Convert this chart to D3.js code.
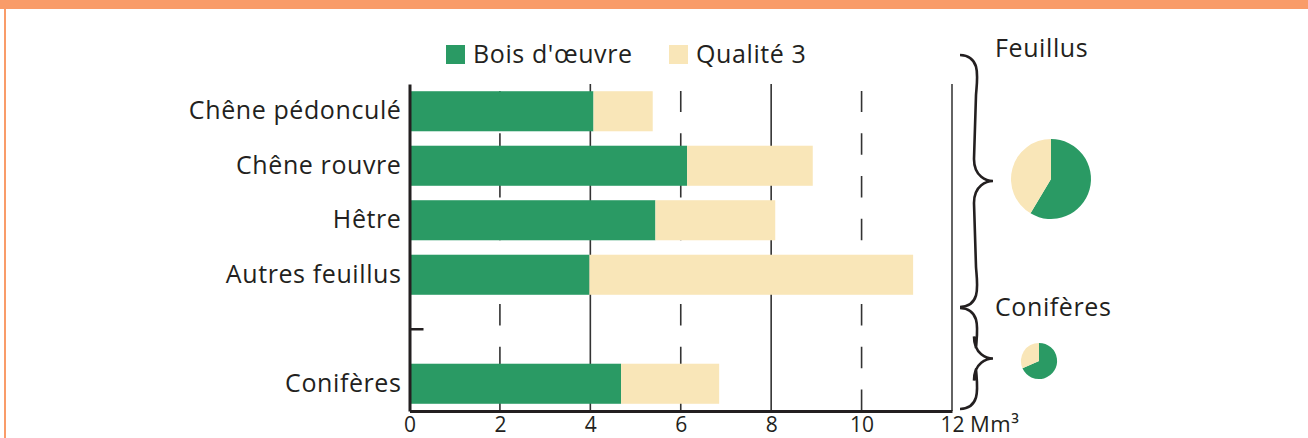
<!DOCTYPE html>
<html>
<head>
<meta charset="utf-8">
<script src="https://cdn.jsdelivr.net/npm/d3@7"></script>
<style>
  html, body { margin: 0; padding: 0; background: #fff; }
  svg { display: block; font-family: "Open Sans", "Noto Sans", sans-serif; }
  svg text { font-family: "Open Sans", "Noto Sans", sans-serif; }
</style>
</head>
<body>
<div id="chart"></div>
<script>
const species = ['Chêne pédonculé', 'Chêne rouvre', 'Hêtre', 'Autres feuillus', 'Conifères'];
const groups = ['Feuillus', 'Feuillus', 'Feuillus', 'Feuillus', 'Conifères'];
const boisOeuvre = [4.07, 6.14, 5.44, 3.98, 4.68];
const qualite3 = [1.31, 2.78, 2.65, 7.16, 2.17];
const seriesNames = ['Bois d\'œuvre', 'Qualité 3'];
const xTicks = [0, 2, 4, 6, 8, 10, 12];
const groupNames = ['Feuillus', 'Conifères'];

const colors = ['#2a9a64', '#f9e6b8'];
const ink = '#231f20';
const width = 1308, height = 438;
const labelSize = 25, labelSpacing = 0.6;

const svg = d3.select('#chart').append('svg').attr('width', width).attr('height', height);

// frame of the page
svg.append('rect').attr('x', 0).attr('y', 0).attr('width', width).attr('height', 9).attr('fill', '#f99c69');
svg.append('rect').attr('x', 4).attr('y', 0).attr('width', 2).attr('height', height).attr('fill', '#f99c69');

const rows = species.map((s, i) => ({ name: s, group: groups[i], a: boisOeuvre[i], b: qualite3[i] }));
// blank band between the two groups
const domain = ['Chêne pédonculé', 'Chêne rouvre', 'Hêtre', 'Autres feuillus', '__gap', 'Conifères'];

const x = d3.scaleLinear([0, 12], [409.5, 952]);
const y = d3.scaleBand(domain, [84, 411]).paddingInner(0.265).paddingOuter(0.1325);

// grid
const grid = svg.append('g');
xTicks.filter((t) => t > 0 && t < 12).forEach((t) => {
  const solid = t % 4 === 0;
  grid.append('line')
    .attr('x1', x(t)).attr('x2', x(t))
    .attr('y1', 411).attr('y2', solid ? 84 : 91)
    .attr('stroke', '#333').attr('stroke-width', 1.6)
    .attr('stroke-dasharray', solid ? null : '21.5,21.2');
});
// right frame line
svg.append('line').attr('x1', x(12)).attr('x2', x(12)).attr('y1', 84).attr('y2', 411)
  .attr('stroke', '#222').attr('stroke-width', 1.4);

// bars
const bars = svg.append('g');
bars.selectAll('rect.a').data(rows).join('rect').attr('class', 'a')
  .attr('x', x(0)).attr('y', (d) => y(d.name))
  .attr('width', (d) => x(d.a) - x(0)).attr('height', y.bandwidth())
  .attr('fill', colors[0]);
bars.selectAll('rect.b').data(rows).join('rect').attr('class', 'b')
  .attr('x', (d) => x(d.a)).attr('y', (d) => y(d.name))
  .attr('width', (d) => x(d.a + d.b) - x(d.a)).attr('height', y.bandwidth())
  .attr('fill', colors[1]);

// axes
const xAxis = svg.append('g').attr('transform', 'translate(0,411)')
  .call(d3.axisBottom(x).tickValues(xTicks).tickSize(0).tickPadding(6).tickFormat(d3.format('d')));
xAxis.attr('font-family', null);
xAxis.select('.domain').attr('stroke', ink).attr('stroke-width', 3);
xAxis.selectAll('text').attr('font-size', 21).attr('fill', ink);

const yAxis = svg.append('g').attr('transform', `translate(${x(0)},0)`)
  .call(d3.axisLeft(y).tickSize(0).tickPadding(8).tickFormat((d) => (d === '__gap' ? '' : d)));
yAxis.attr('font-family', null);
yAxis.select('.domain').attr('stroke', ink).attr('stroke-width', 3);
yAxis.selectAll('text').attr('font-size', labelSize).attr('letter-spacing', labelSpacing).attr('fill', ink);
// small inner tick on the gap band
yAxis.append('line').attr('x1', 0).attr('x2', 14)
  .attr('y1', y('__gap') + y.bandwidth() / 2).attr('y2', y('__gap') + y.bandwidth() / 2)
  .attr('stroke', ink).attr('stroke-width', 2.5);

svg.append('text').attr('x', 970).attr('y', 432).attr('font-size', 22).attr('letter-spacing', 0.5)
  .attr('fill', ink).text('Mm³');

// legend
const legend = svg.append('g');
const legendX = [446, 669];
seriesNames.forEach((n, i) => {
  legend.append('rect').attr('x', legendX[i]).attr('y', 45).attr('width', 19).attr('height', 19).attr('fill', colors[i]);
  legend.append('text').attr('x', legendX[i] + 27).attr('y', 63)
    .attr('font-size', labelSize).attr('letter-spacing', labelSpacing).attr('fill', ink).text(n);
});

// group braces and pies
function bracePath(x0, y0, y1) {
  const m = (y0 + y1) / 2;
  const w = 17;
  return `M${x0},${y0} C${x0 + w + 5},${y0 + 1} ${x0 + w},${y0 + 24} ${x0 + w - 1},${y0 + 40}
    L${x0 + w - 3},${m - 22} C${x0 + w - 3},${m - 4} ${x0 + w + 10},${m} ${x0 + 33},${m}
    C${x0 + w + 10},${m} ${x0 + w - 3},${m + 4} ${x0 + w - 3},${m + 22}
    L${x0 + w - 1},${y1 - 40} C${x0 + w},${y1 - 24} ${x0 + w + 5},${y1 - 1} ${x0},${y1}`;
}

const totals = groupNames.map((g) => {
  const r = rows.filter((d) => d.group === g);
  return { name: g, a: d3.sum(r, (d) => d.a), b: d3.sum(r, (d) => d.b) };
});
const rScale = d3.scaleSqrt([0, d3.max(totals, (t) => t.a + t.b)], [0, 40]);
const pie = d3.pie().sort(null).value((d) => d);
const arc = d3.arc().innerRadius(0);

const groupLayout = [
  { y0: 55, y1: 307, labelY: 57, cx: 1051, cy: 179 },
  { y0: 308, y1: 409, labelY: 316, cx: 1039, cy: 361 },
];
totals.forEach((t, i) => {
  const L = groupLayout[i];
  svg.append('path').attr('d', bracePath(960, L.y0, L.y1))
    .attr('fill', 'none').attr('stroke', ink).attr('stroke-width', 2.6);
  svg.append('text').attr('x', 995).attr('y', L.labelY)
    .attr('font-size', labelSize).attr('letter-spacing', labelSpacing).attr('fill', ink).text(t.name);
  const r = rScale(t.a + t.b);
  const g = svg.append('g').attr('transform', `translate(${L.cx},${L.cy})`);
  g.selectAll('path').data(pie([t.a, t.b])).join('path')
    .attr('d', arc.outerRadius(r)).attr('fill', (d, j) => colors[j]);
});
</script>
</body>
</html>
